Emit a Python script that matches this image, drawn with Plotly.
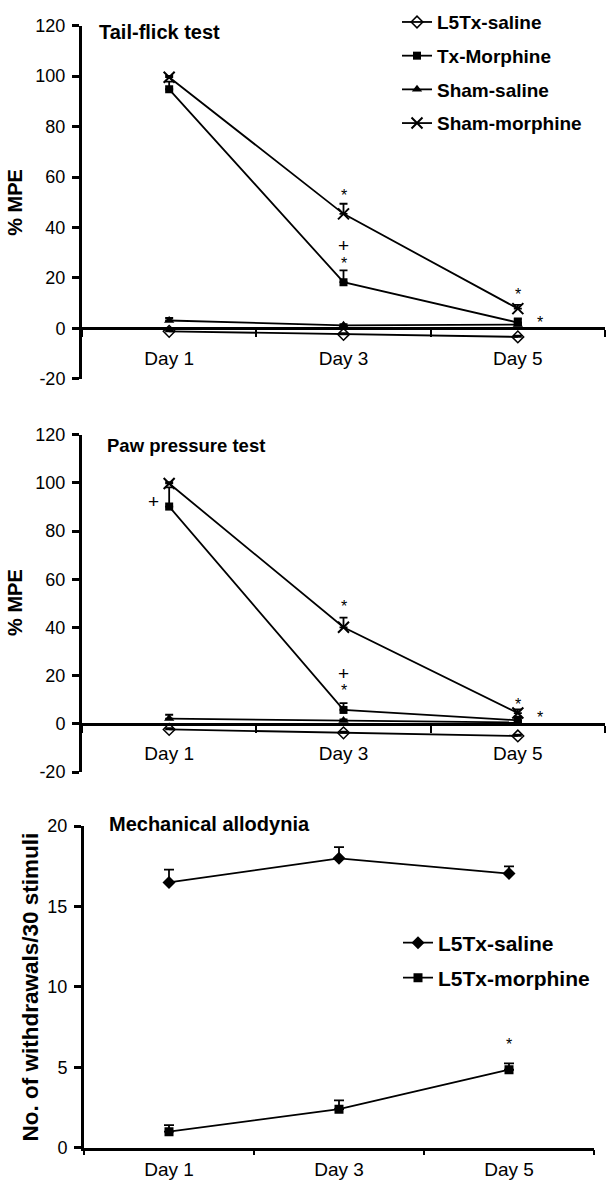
import plotly.graph_objects as go

# ---------------- data ----------------
days = ["Day 1", "Day 3", "Day 5"]

# Panel A: Tail-flick test (% MPE)
tf_l5tx_saline = [-1.2, -2.4, -3.4]
tf_l5tx_saline_err = [0.5, 0.5, 0.5]
tf_tx_morphine = [94.8, 18.3, 2.3]
tf_tx_morphine_err = [3.0, 4.7, 1.6]
tf_sham_saline = [3.1, 1.2, 1.5]
tf_sham_saline_err = [1.0, 0.5, 0.5]
tf_sham_morphine = [99.6, 45.4, 7.8]
tf_sham_morphine_err = [0.5, 4.0, 1.5]

# Panel B: Paw pressure test (% MPE)
pp_l5tx_saline = [-2.3, -3.7, -5.0]
pp_l5tx_saline_err = [0.5, 0.5, 0.5]
pp_tx_morphine = [90.2, 5.8, 1.5]
pp_tx_morphine_err = [8.0, 2.8, 1.5]
pp_sham_saline = [2.2, 1.4, 0.6]
pp_sham_saline_err = [1.6, 0.5, 0.5]
pp_sham_morphine = [99.8, 40.1, 4.5]
pp_sham_morphine_err = [0.5, 4.0, 1.5]

# Panel C: Mechanical allodynia (No. of withdrawals / 30 stimuli)
ma_saline = [16.5, 18.0, 17.05]
ma_saline_err = [0.8, 0.7, 0.45]
ma_morphine = [1.0, 2.4, 4.85]
ma_morphine_err = [0.4, 0.55, 0.4]

# tick labels
pct_tickvals = [-20, 0, 20, 40, 60, 80, 100, 120]
pct_ticktext = ["-20", "0", "20", "40", "60", "80", "100", "120"]
ma_tickvals = [0, 5, 10, 15, 20]
ma_ticktext = ["0", "5", "10", "15", "20"]

# significance marks (category index, value, text)
tf_sig_x = [1, 1, 1, 2, 2.125]
tf_sig_y = [54, 33, 27, 14.5, 3.5]
tf_sig_t = ["*", "+", "*", "*", "*"]
pp_sig_x = [-0.09, 1, 1, 1, 2, 2.125]
pp_sig_y = [92.5, 50, 21, 15, 9.4, 4]
pp_sig_t = ["+", "*", "+", "*", "*", "*"]
ma_sig_x = [2]
ma_sig_y = [6.6]
ma_sig_t = ["*"]

series_names = ["L5Tx-saline", "Tx-Morphine", "Sham-saline", "Sham-morphine"]
ma_names = ["L5Tx-saline", "L5Tx-morphine"]

# ---------------- styling ----------------
FONT = "Liberation Sans, Arial, Helvetica, sans-serif"
W, H = 610, 1200

def py(px):
    return 1 - px / H

def pxx(px):
    return px / W

dom_x12 = [pxx(82), pxx(605)]
dom_x3 = [pxx(84), pxx(594)]
dom_y1 = [py(375), py(16)]
dom_y2 = [py(775), py(432)]
dom_y3 = [py(1157), py(830)]
rng_pct = [-20, 120]
rng_ma = [0, 20]

def zero_pos(dom, rng):
    return dom[0] + (0 - rng[0]) / (rng[1] - rng[0]) * (dom[1] - dom[0])

styles = [
    dict(symbol="diamond-open", size=9, color="black", line=dict(width=1.5, color="black")),
    dict(symbol="square", size=8, color="black"),
    dict(symbol="triangle-up", size=9, color="black"),
    dict(symbol="x-thin-open", size=11, color="black", line=dict(width=2, color="black")),
]

fig = go.Figure()

def add_series(x, y, err, marker, name, xa, ya, showlegend, legend="legend", group=None):
    fig.add_trace(go.Scatter(
        x=x, y=y, mode="lines+markers", name=name,
        line=dict(color="black", width=1.8),
        marker=marker,
        error_y=dict(type="data", symmetric=False, array=err,
                     arrayminus=[0] * len(err), color="black",
                     thickness=1.8, width=4),
        xaxis=xa, yaxis=ya, showlegend=showlegend, legend=legend,
        legendgroup=group or name,
    ))

tf = [(tf_l5tx_saline, tf_l5tx_saline_err), (tf_tx_morphine, tf_tx_morphine_err),
      (tf_sham_saline, tf_sham_saline_err), (tf_sham_morphine, tf_sham_morphine_err)]
pp = [(pp_l5tx_saline, pp_l5tx_saline_err), (pp_tx_morphine, pp_tx_morphine_err),
      (pp_sham_saline, pp_sham_saline_err), (pp_sham_morphine, pp_sham_morphine_err)]

for (y, e), st, nm in zip(tf, styles, series_names):
    add_series(days, y, e, st, nm, "x", "y", True, "legend")
for (y, e), st, nm in zip(pp, styles, series_names):
    add_series(days, y, e, st, nm, "x2", "y2", False, "legend", group=nm + "_b")

ma_styles = [dict(symbol="diamond", size=10, color="black"),
             dict(symbol="square", size=9, color="black")]
for (y, e), st, nm in zip([(ma_saline, ma_saline_err), (ma_morphine, ma_morphine_err)], ma_styles, ma_names):
    fig.add_trace(go.Scatter(
        x=days, y=y, mode="lines+markers", name=nm,
        line=dict(color="black", width=1.8), marker=st,
        error_y=dict(type="data", symmetric=False, array=e, arrayminus=[0] * len(e),
                     color="black", thickness=1.8, width=5),
        xaxis="x3", yaxis="y3", legend="legend2", legendgroup=nm + "_c",
    ))

xaxis_common = dict(type="category", range=[-0.5, 2.5], showline=True, linecolor="black",
                    linewidth=2.5, ticks="outside", tickson="boundaries", ticklen=7,
                    tickwidth=2, tickcolor="black", showgrid=False, zeroline=False,
                    tickfont=dict(family=FONT, size=19, color="black"))
yaxis_common = dict(showline=True, linecolor="black", linewidth=3, ticks="outside",
                    ticklen=7, tickwidth=3, tickcolor="black", showgrid=False,
                    zeroline=False, tickmode="array", ticklabelstandoff=3,
                    tickfont=dict(family=FONT, size=18, color="black"))

annotations = []
for xs, ys, ts, xr, yr in [(tf_sig_x, tf_sig_y, tf_sig_t, "x", "y"),
                           (pp_sig_x, pp_sig_y, pp_sig_t, "x2", "y2"),
                           (ma_sig_x, ma_sig_y, ma_sig_t, "x3", "y3")]:
    for xv, yv, tv in zip(xs, ys, ts):
        annotations.append(dict(x=xv, y=yv, xref=xr, yref=yr, text=tv, showarrow=False,
                                font=dict(family=FONT, size=16 if tv == "*" else 19, color="#000000"),
                                yshift=-3 if tv == "*" else 0))

titles = [("Tail-flick test", 97, 22, 20), ("Paw pressure test", 105, 443, 18.5),
          ("Mechanical allodynia", 107, 828, 20)]
for t, x0, y0, fs in titles:
    annotations.append(dict(x=pxx(x0), y=py(y0), xref="paper", yref="paper", text=t,
                            showarrow=False, xanchor="left", yanchor="middle",
                            font=dict(family=FONT, size=fs, color="black", weight="bold")))

ytitles = [("% MPE", 15, 196, 20), ("% MPE", 15, 603, 20),
           ("No. of withdrawals/30 stimuli", 30, 994, 22.5)]
for t, x0, y0, fs in ytitles:
    annotations.append(dict(x=pxx(x0), y=py(y0), xref="paper", yref="paper", text=t,
                            showarrow=False, textangle=-90, xanchor="center", yanchor="middle",
                            font=dict(family=FONT, size=fs, color="black", weight="bold")))

fig.update_layout(
    width=W, height=H, margin=dict(l=0, r=0, t=0, b=0),
    paper_bgcolor="white", plot_bgcolor="white",
    font=dict(family=FONT, color="black"),
    xaxis=dict(xaxis_common, domain=dom_x12, anchor="free", position=zero_pos(dom_y1, rng_pct),
               ticklabelstandoff=12),
    yaxis=dict(yaxis_common, domain=dom_y1, anchor="x", range=rng_pct,
               tickvals=pct_tickvals, ticktext=pct_ticktext),
    xaxis2=dict(xaxis_common, domain=dom_x12, anchor="free", position=zero_pos(dom_y2, rng_pct),
                ticklabelstandoff=12),
    yaxis2=dict(yaxis_common, domain=dom_y2, anchor="x2", range=rng_pct,
                tickvals=pct_tickvals, ticktext=pct_ticktext),
    xaxis3=dict(xaxis_common, domain=dom_x3, anchor="y3", ticklen=5, ticklabelstandoff=3),
    yaxis3=dict(yaxis_common, domain=dom_y3, anchor="x3", range=rng_ma,
                tickvals=ma_tickvals, ticktext=ma_ticktext),
    legend=dict(x=pxx(397), y=1 + 7 / H, xanchor="left", yanchor="top", bgcolor="rgba(0,0,0,0)",
                font=dict(family=FONT, size=19, color="black", weight="bold"),
                tracegroupgap=6, itemwidth=30),
    legend2=dict(x=pxx(398), y=py(928), xanchor="left", yanchor="top", bgcolor="rgba(0,0,0,0)",
                 font=dict(family=FONT, size=21, color="black", weight="bold"),
                 tracegroupgap=4.7, itemwidth=30),
    annotations=annotations,
    showlegend=True,
)

fig.write_html("out.html",
               config={"displayModeBar": False},
               post_script="document.body.style.margin='0';document.body.style.overflow='hidden';")
